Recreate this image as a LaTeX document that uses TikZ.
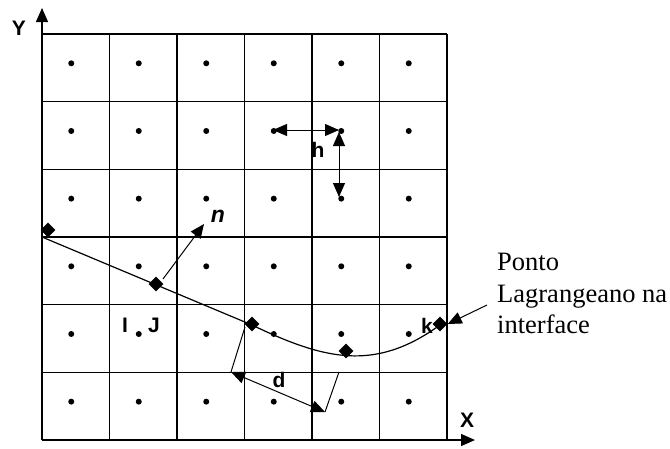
\documentclass[tikz,border=0pt]{standalone}
\usepackage{fontspec}
\setmainfont{Liberation Serif}
\setsansfont{Liberation Sans}
\usetikzlibrary{arrows.meta,shapes.geometric}
\begin{document}
\begin{tikzpicture}[x=1pt,y=-1pt,
  gridline/.style={line width=1.3pt},
  tri/.style={-{Triangle[length=14pt,width=12pt]}},
  dtri/.style={{Triangle[length=14pt,width=12pt]}-{Triangle[length=14pt,width=12pt]}},
  gdot/.style={circle,fill=black,inner sep=0pt,minimum size=6pt},
  lpt/.style={diamond,fill=black,inner sep=0pt,minimum width=15pt,minimum height=15pt},
  lbl/.style={font=\sffamily\bfseries\fontsize{21}{25}\selectfont,inner sep=0pt},
  note/.style={font=\fontsize{26.5}{31}\selectfont,inner sep=0pt,anchor=base west}]
\path[use as bounding box] (0,0) rectangle (670,448);
% grid
\foreach \i in {1,...,6} \draw[gridline] ({42+67.5*\i},34) -- ({42+67.5*\i},440);
\foreach \j in {0,...,5} \draw[gridline] (42,{34+67.67*\j}) -- (447,{34+67.67*\j});
% axes
\coordinate (O) at (42,440);
\coordinate (ytip) at (42,8);
\coordinate (xtip) at (475,440);
\draw[line width=1.3pt,tri] (O) -- (ytip);
\draw[line width=1.3pt,tri] (O) -- (xtip);
\node[lbl] (Y) at (19,28) {Y};
\node[lbl] (X) at (467,420) {X};
% dots
\foreach \i in {0,...,5} \foreach \j in {0,...,5}
  \node[gdot] (p\i\j) at ({71.25+67.5*\i},{63.3+67.67*\j}) {};
% interface curve
\coordinate (c0) at (42,237);
\coordinate (c3) at (440,325);
\draw[line width=1.2pt] (c0) -- (252,325) .. controls (325,360) and (375,372) .. (c3);
% Lagrangian points
\node[lpt] (L0) at (48,230) {};
\node[lpt] (L1) at (156,284) {};
\node[lpt] (L2) at (252,324) {};
\node[lpt] (L3) at (346,351) {};
\node[lpt] (Lk) at (440,324) {};
% normal
\coordinate (n0) at (163,279);
\coordinate (n1) at (204,224);
\draw[line width=1pt,tri] (n0) -- (n1);
\node[lbl,font=\sffamily\bfseries\itshape\fontsize{23}{27}\selectfont] (nl) at (218,216) {n};
% h arrows
\coordinate (h0) at (273,130);
\coordinate (h1) at (339,130);
\coordinate (h2) at (339,132);
\coordinate (h3) at (339,197);
\draw[line width=1pt,dtri] (h0) -- (h1);
\draw[line width=1pt,dtri] (h2) -- (h3);
\node[lbl] (hl) at (318,150) {h};
% d
\coordinate (d0) at (245,327);
\coordinate (d1) at (231,372);
\coordinate (d2) at (325,412);
\coordinate (d3) at (339,372);
\draw[line width=1pt] (d0) -- (d1);
\draw[line width=1pt,dtri] (d1) -- (d2);
\draw[line width=1pt] (d2) -- (d3);
\node[lbl] (dl) at (279,380) {d};
% I,J and k
\node[lbl] (I) at (125,325) {I};
\node[lbl] (J) at (154,325) {J};
\node[lbl] (k) at (427,326) {k};
% annotation
\node[note] (t1) at (497,270) {Ponto};
\node[note] (t2) at (497,302) {Lagrangeano na};
\node[note] (t3) at (497,333) {interface};
\coordinate (a0) at (487,305);
\draw[line width=1pt,tri] (a0) -- (Lk.east);
\end{tikzpicture}
\end{document}
